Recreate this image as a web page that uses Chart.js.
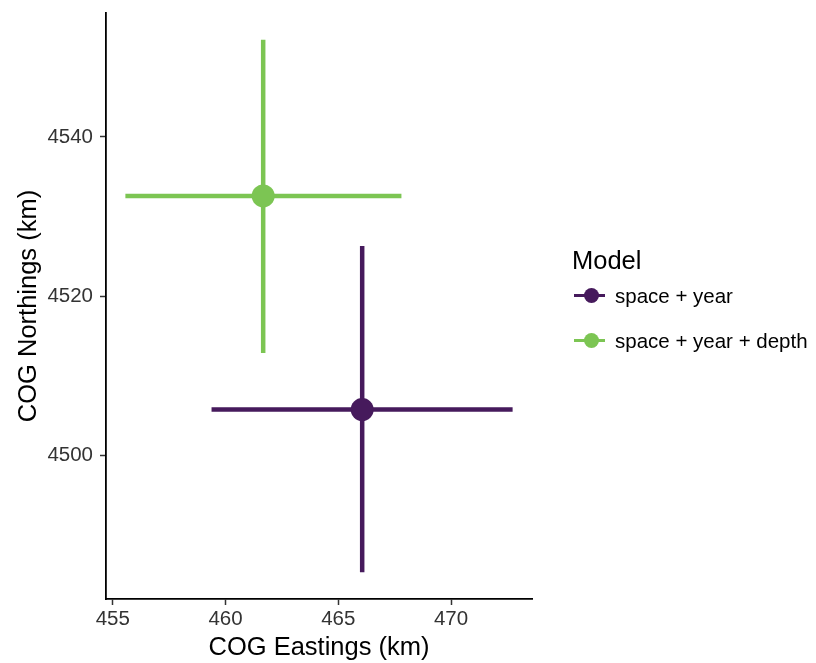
<!DOCTYPE html>
<html>
<head>
<meta charset="utf-8">
<script src="https://cdn.jsdelivr.net/npm/chart.js@4"></script>
<style>
  body { margin: 0; background: #fff; }
  #wrap { position: relative; width: 816px; height: 663px; }
  #legend { position: absolute; left: 572px; top: 243px; font-family: "Liberation Sans", Arial, sans-serif; color: #000; }
  #legend .title { font-size: 25.5px; line-height: 34px; margin-bottom: 4px; }
  #legend .item { position: relative; height: 45px; line-height: 30px; font-size: 20.5px; padding-left: 43px; white-space: nowrap; }
  #legend .key { position: absolute; left: 2px; top: 13px; width: 31px; height: 3px; }
  #legend .dot { position: absolute; left: 10px; top: -6px; width: 15px; height: 15px; border-radius: 50%; }
</style>
</head>
<body>
<div id="wrap">
  <canvas id="cog" width="816" height="663"></canvas>
  <div id="legend"></div>
</div>
<script>
// Data: centre of gravity per model, with interval ends
const models = ['space + year', 'space + year + depth'];
const warna = ['#461a5c', '#7cc553'];
const eastings = [466.06, 461.67];
const eastLow = [459.38, 455.56];
const eastHigh = [472.73, 467.80];
const northings = [4505.8, 4532.6];
const northLow = [4485.4, 4512.9];
const northHigh = [4526.3, 4552.2];
const xTicks = [455, 460, 465, 470];
const yTicks = [4500, 4520, 4540];

const fontFam = '"Liberation Sans", Arial, sans-serif';

// garis error bar digambar sebelum titik
const errorBars = {
    id: 'errorBars',
    beforeDatasetsDraw(chart) {
        const ctx = chart.ctx;
        const x = chart.scales.x;
        const y = chart.scales.y;
        ctx.save();
        ctx.lineWidth = 4.5;
        ctx.lineCap = 'butt';
        models.forEach((m, i) => {
            ctx.strokeStyle = warna[i];
            ctx.beginPath();
            ctx.moveTo(x.getPixelForValue(eastLow[i]), y.getPixelForValue(northings[i]));
            ctx.lineTo(x.getPixelForValue(eastHigh[i]), y.getPixelForValue(northings[i]));
            ctx.moveTo(x.getPixelForValue(eastings[i]), y.getPixelForValue(northLow[i]));
            ctx.lineTo(x.getPixelForValue(eastings[i]), y.getPixelForValue(northHigh[i]));
            ctx.stroke();
        });
        ctx.restore();
    }
};

const datasets = models.map((m, i) => ({
    label: m,
    data: [{ x: eastings[i], y: northings[i] }],
    backgroundColor: warna[i],
    borderWidth: 0,
    pointRadius: 11.5,
    pointHoverRadius: 11.5
}));

new Chart(document.getElementById('cog'), {
    type: 'scatter',
    data: { datasets: datasets },
    plugins: [errorBars],
    options: {
        responsive: false,
        animation: false,
        layout: { padding: { top: 13, right: 284, bottom: 0, left: 0 } },
        plugins: { legend: { display: false }, tooltip: { enabled: false } },
        scales: {
            x: {
                min: 454.70,
                max: 473.59,
                afterBuildTicks: s => { s.ticks = xTicks.map(v => ({ value: v })); },
                afterFit: s => { s.height = 64; s.paddingLeft = 0; s.paddingRight = 0; },
                grid: { drawOnChartArea: false, tickLength: 6, tickWidth: 1.5, tickColor: '#333' },
                border: { color: '#000', width: 1.8 },
                ticks: { color: '#333', padding: 2, font: { family: fontFam, size: 20.5 }, callback: v => String(v) },
                title: { display: true, text: 'COG Eastings (km)', color: '#000', padding: { top: 0, bottom: 0 }, font: { family: fontFam, size: 25.5 } }
            },
            y: {
                min: 4482.04,
                max: 4555.54,
                afterBuildTicks: s => { s.ticks = yTicks.map(v => ({ value: v })); },
                afterFit: s => { s.width = 106; s.paddingTop = 0; s.paddingBottom = 0; },
                grid: { drawOnChartArea: false, tickLength: 6, tickWidth: 1.5, tickColor: '#333' },
                border: { color: '#000', width: 1.8 },
                ticks: { color: '#333', padding: 7, font: { family: fontFam, size: 20.5 }, callback: v => String(v) },
                title: { display: true, text: 'COG Northings (km)', color: '#000', padding: { top: 14, bottom: 0 }, font: { family: fontFam, size: 25.5 } }
            }
        }
    }
});

// Legenda HTML
const legend = document.getElementById('legend');
legend.innerHTML = '<div class="title">Model</div>';
models.forEach((m, i) => {
    const item = document.createElement('div');
    item.className = 'item';
    item.innerHTML = `<span class="key" style="background:${warna[i]}"><span class="dot" style="background:${warna[i]}"></span></span>${m}`;
    legend.appendChild(item);
});
</script>
</body>
</html>
